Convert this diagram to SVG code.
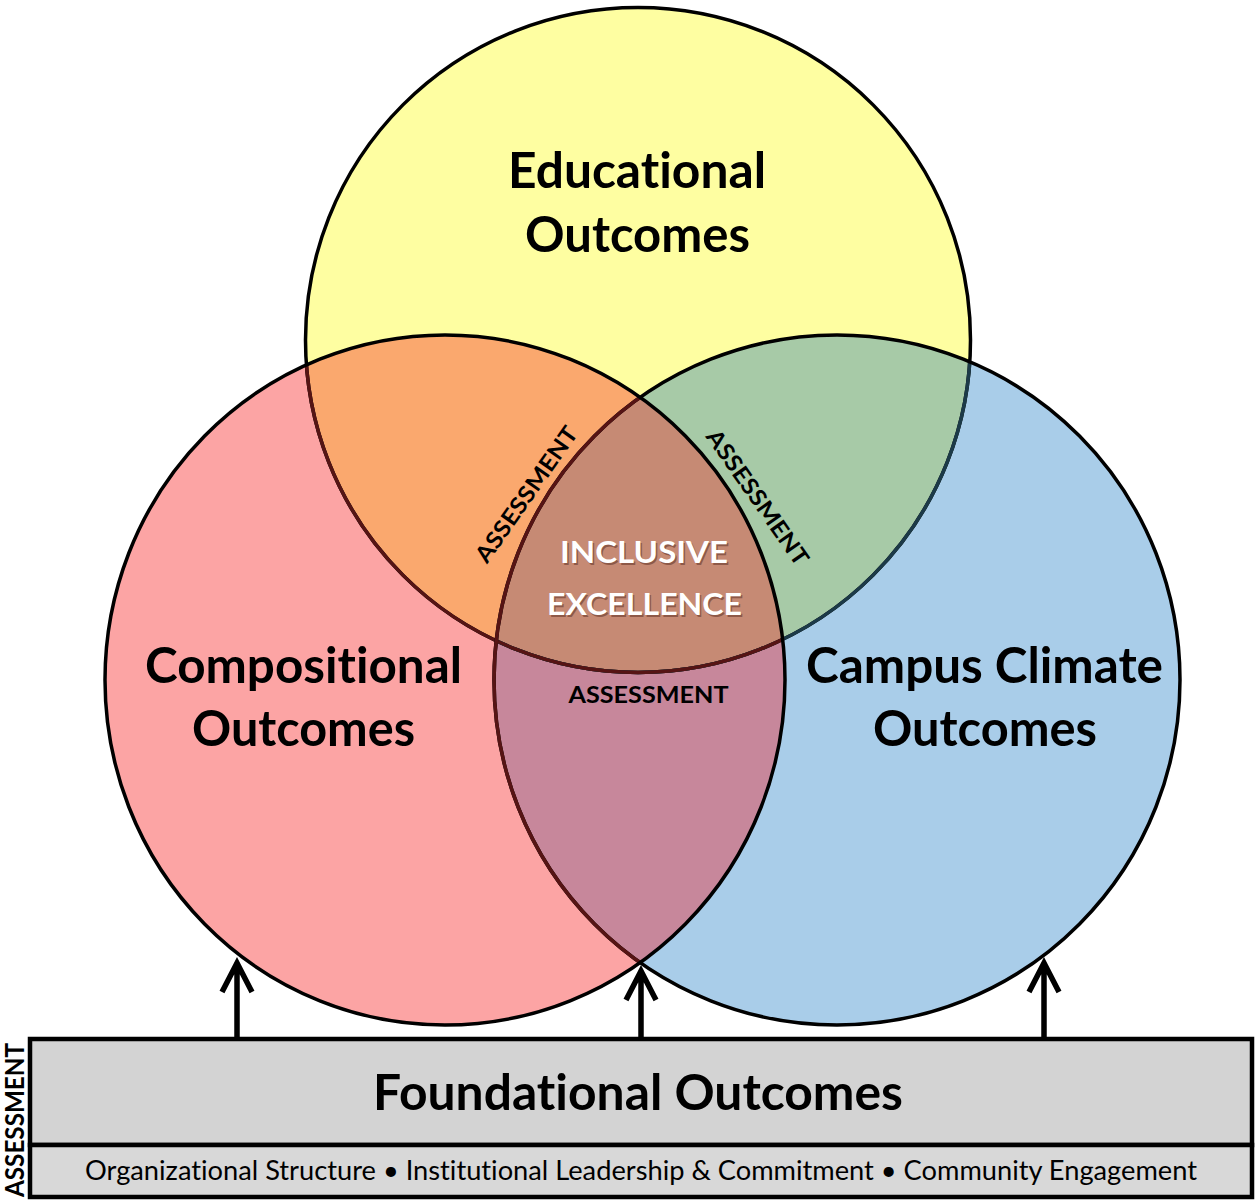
<svg xmlns="http://www.w3.org/2000/svg" width="1258" height="1201" viewBox="0 0 1258 1201">
<style>
text{font-variant-ligatures:none;font-feature-settings:"liga" 0,"clig" 0}
.t{font-family:Lato,"Open Sans","Liberation Sans",sans-serif;font-weight:700;fill:#000;text-anchor:middle}
.big{font-size:49px}
.ass{font-size:23px}
.ie{font-size:31px;fill:#fff}
.ies{font-size:31px;fill:#6a3a2c;opacity:.6}
.sub{font-family:Lato,"Open Sans","Liberation Sans",sans-serif;font-weight:400;font-size:26px;fill:#000;text-anchor:middle}
.ring{fill:none;stroke-width:3.5}
.arr{fill:none;stroke:#000;stroke-width:5.5}
</style>
<defs>
<clipPath id="cY"><circle cx="638" cy="340" r="332.5"/></clipPath>
<clipPath id="cR"><ellipse cx="445" cy="680" rx="340" ry="345"/></clipPath>
<clipPath id="cB"><ellipse cx="837" cy="680" rx="343" ry="345"/></clipPath>
</defs>
<rect width="1258" height="1201" fill="#fff"/>

<g id="fills">
<circle cx="638" cy="340" r="332.5" fill="#fefea1"/>
<ellipse cx="445" cy="680" rx="340" ry="345" fill="#fca4a4"/>
<ellipse cx="837" cy="680" rx="343" ry="345" fill="#a9cde9"/>
<g clip-path="url(#cY)">
<ellipse cx="445" cy="680" rx="340" ry="345" fill="#faa86e"/>
<ellipse cx="837" cy="680" rx="343" ry="345" fill="#a7caa7"/>
</g>
<g clip-path="url(#cR)">
<ellipse cx="837" cy="680" rx="343" ry="345" fill="#c7879b"/>
<g clip-path="url(#cY)">
<ellipse cx="837" cy="680" rx="343" ry="345" fill="#c68a74"/>
</g>
</g>
</g>

<g id="outlines">
<circle class="ring" cx="638" cy="340" r="332.5" stroke="#000"/>
<g clip-path="url(#cB)"><circle class="ring" cx="638" cy="340" r="332.5" stroke="#1c3a48"/></g>
<g clip-path="url(#cR)"><circle class="ring" cx="638" cy="340" r="332.5" stroke="#561414"/></g>
<ellipse class="ring" cx="837" cy="680" rx="343" ry="345" stroke="#000"/>
<g clip-path="url(#cR)"><ellipse class="ring" cx="837" cy="680" rx="343" ry="345" stroke="#561414"/></g>
<ellipse class="ring" cx="445" cy="680" rx="340" ry="345" stroke="#000"/>
</g>

<g id="node-educational">
<text class="t big" x="637" y="188" textLength="258" lengthAdjust="spacingAndGlyphs">Educational</text>
<text class="t big" x="637.5" y="252" textLength="225" lengthAdjust="spacingAndGlyphs">Outcomes</text>
</g>
<g id="node-compositional">
<text class="t big" x="303.5" y="683" textLength="317" lengthAdjust="spacingAndGlyphs">Compositional</text>
<text class="t big" x="303.5" y="746" textLength="223" lengthAdjust="spacingAndGlyphs">Outcomes</text>
</g>
<g id="node-campus">
<text class="t big" x="984.5" y="683" textLength="357" lengthAdjust="spacingAndGlyphs">Campus Climate</text>
<text class="t big" x="985" y="746" textLength="224" lengthAdjust="spacingAndGlyphs">Outcomes</text>
</g>
<g id="node-inclusive">
<text class="t ies" x="645.5" y="564.5" textLength="168" lengthAdjust="spacingAndGlyphs">INCLUSIVE</text>
<text class="t ies" x="646" y="616.5" textLength="195" lengthAdjust="spacingAndGlyphs">EXCELLENCE</text>
<text class="t ie" x="644" y="563" textLength="168" lengthAdjust="spacingAndGlyphs">INCLUSIVE</text>
<text class="t ie" x="644.5" y="615" textLength="195" lengthAdjust="spacingAndGlyphs">EXCELLENCE</text>
</g>
<g id="labels-assessment">
<text class="t ass" transform="translate(533,499) rotate(-55)" textLength="160" lengthAdjust="spacingAndGlyphs">ASSESSMENT</text>
<text class="t ass" transform="translate(751,502) rotate(55)" textLength="160" lengthAdjust="spacingAndGlyphs">ASSESSMENT</text>
<text class="t ass" x="648.5" y="703" textLength="160" lengthAdjust="spacingAndGlyphs">ASSESSMENT</text>
</g>

<g id="connectors">
<path class="arr" d="M237 1037V962M222 992L237 963L252 992"/>
<path class="arr" d="M641 1037V970M626 1000L641 971L656 1000"/>
<path class="arr" d="M1044 1037V962M1029 992L1044 963L1059 992"/>
</g>

<g id="node-foundational">
<rect x="30" y="1039" width="1222" height="106" fill="#d3d3d3" stroke="#000" stroke-width="4.5"/>
<rect x="30" y="1145" width="1222" height="52" fill="#d8d8d8" stroke="#000" stroke-width="4.5"/>
<text class="t big" x="638" y="1110" textLength="530" lengthAdjust="spacingAndGlyphs">Foundational Outcomes</text>
<text class="sub" x="641" y="1180" textLength="1112" lengthAdjust="spacingAndGlyphs">Organizational Structure • Institutional Leadership &amp; Commitment • Community Engagement</text>
<text class="t ass" transform="translate(23.5,1120) rotate(-90)" style="font-size:26px" textLength="154" lengthAdjust="spacingAndGlyphs">ASSESSMENT</text>
</g>
</svg>
